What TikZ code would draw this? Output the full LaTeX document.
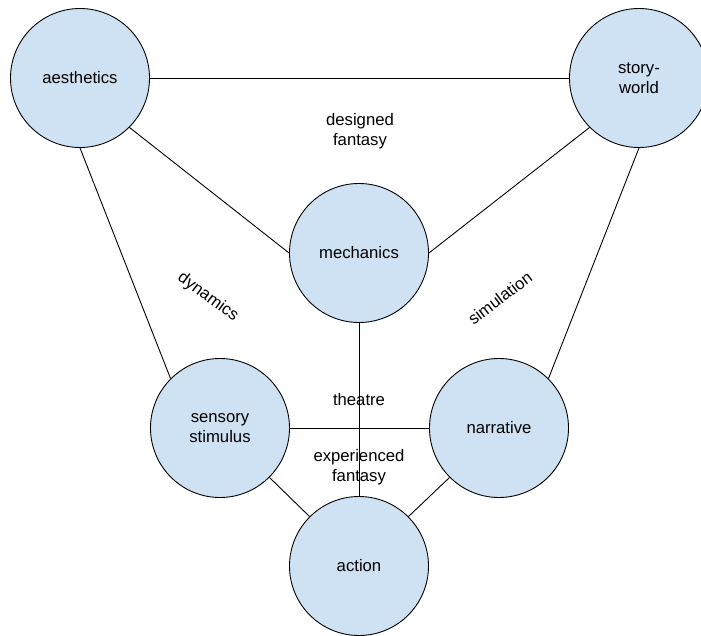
\documentclass[tikz,border=0pt]{standalone}
\usepackage{fontspec}
\setmainfont{Liberation Sans}
\definecolor{nodefill}{HTML}{CFE2F3}
\newcommand{\labelfont}{\fontsize{16.7}{19.6}\selectfont}
\begin{document}
\begin{tikzpicture}[x=1pt,y=-1pt,
  concept/.style={circle, draw=black, line width=0.9pt, fill=nodefill,
    minimum size=139pt, inner sep=0pt, align=center, font=\labelfont},
  link/.style={draw=black, line width=0.9pt},
  note/.style={align=center, font=\labelfont, inner sep=0pt}]
\useasboundingbox (0,0) rectangle (701,636);
\clip (0,0) rectangle (701,636);

% concepts
\node[concept] (aesthetics) at (80,78)    {aesthetics};
\node[concept] (story)      at (639,78)   {story-\\world};
\node[concept] (mechanics)  at (359,253)  {mechanics};
\node[concept] (sensory)    at (220,428)  {sensory\\stimulus};
\node[concept] (narrative)  at (499,428)  {narrative};
\node[concept] (action)     at (359,566)  {action};

% connections
\draw[link] (aesthetics.east) -- (story.west);
\draw[link] (aesthetics.-45) -- (mechanics.west);
\draw[link] (aesthetics.south) -- (sensory.135);
\draw[link] (story.-135) -- (mechanics.east);
\draw[link] (story.south) -- (narrative.45);
\draw[link] (mechanics.south) -- (action.north);
\draw[link] (sensory.east) -- (narrative.west);
\draw[link] (sensory.-45) -- (action.135);
\draw[link] (narrative.-135) -- (action.45);

% region labels
\node[note] (designed)    at (360,131) {designed\\fantasy};
\node[note] (dynamics)    at (208,297) [rotate=-36] {dynamics};
\node[note] (simulation)  at (500,298) [rotate=37] {simulation};
\node[note] (theatre)     at (359,400) {theatre};
\node[note] (experienced) at (359,467) {experienced\\fantasy};
\end{tikzpicture}
\end{document}
